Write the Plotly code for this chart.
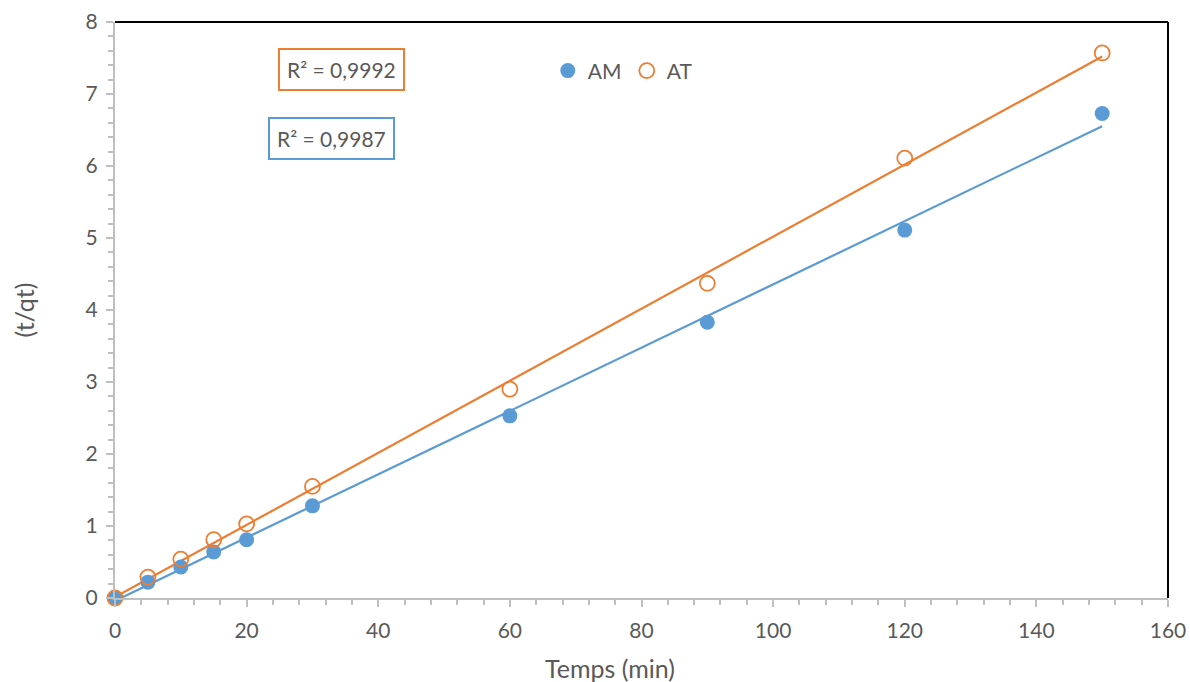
import numpy as np
import plotly.graph_objects as go

# Temps de contact (min)
temps = [0, 5, 10, 15, 20, 30, 60, 90, 120, 150]
# t/qt pour chaque adsorbant
am_values = [0.0, 0.22, 0.43, 0.64, 0.81, 1.28, 2.53, 3.83, 5.11, 6.73]
at_values = [0.0, 0.29, 0.54, 0.81, 1.03, 1.55, 2.90, 4.37, 6.11, 7.57]

r2_am = "R² = 0,9987"
r2_at = "R² = 0,9992"

BLUE = "#5B9BD5"
ORANGE = "#ED7D31"
GREY_TEXT = "#595959"
AXIS_GREY = "#BFBFBF"
FONT = "Lato, 'Open Sans', sans-serif"

fig = go.Figure()

# Linear trendlines (least squares over the measured points)
x_fit = np.array([temps[0], temps[-1]], dtype=float)
for vals, color in [(am_values, BLUE), (at_values, ORANGE)]:
    slope, intercept = np.polyfit(temps, vals, 1)
    fig.add_trace(go.Scatter(
        x=x_fit, y=slope * x_fit + intercept, mode="lines",
        line=dict(color=color, width=2.2), showlegend=False, hoverinfo="skip"))

fig.add_trace(go.Scatter(
    x=temps, y=am_values, mode="markers", name="AM", cliponaxis=False,
    marker=dict(symbol="circle", size=15, color=BLUE, line=dict(width=0))))
fig.add_trace(go.Scatter(
    x=temps, y=at_values, mode="markers", name="AT", cliponaxis=False,
    marker=dict(symbol="circle-open", size=15, color=ORANGE, line=dict(width=1.8, color=ORANGE))))

axis_common = dict(
    showgrid=False, zeroline=False, showline=True, linecolor=AXIS_GREY, linewidth=2,
    ticks="outside", ticklen=7, tickwidth=1.5, tickcolor=AXIS_GREY, automargin=False,
    tickfont=dict(family=FONT, size=21, color=GREY_TEXT),
)

fig.update_xaxes(
    range=[0, 160], dtick=20, tick0=0, ticklabelstandoff=6,
    minor=dict(dtick=4, ticks="outside", ticklen=5, tickcolor=AXIS_GREY, tickwidth=1.5),
    **axis_common)
fig.update_yaxes(
    range=[0, 8], dtick=1, tick0=0, ticklabelstandoff=4,
    minor=dict(dtick=0.2, ticks="outside", ticklen=5, tickcolor=AXIS_GREY, tickwidth=1.5),
    title=dict(text="(t/qt)", font=dict(family=FONT, size=25, color=GREY_TEXT), standoff=44),
    **axis_common)

# X-axis title
fig.add_annotation(
    x=0.47, y=-0.1215, xref="paper", yref="paper", xanchor="center", yanchor="middle",
    text="Temps (min)", showarrow=False, font=dict(family=FONT, size=25, color=GREY_TEXT))

# Plot-area frame on the top and right sides
fig.add_shape(type="line", xref="x domain", yref="y domain", x0=0, x1=1, y0=1, y1=1,
              line=dict(color="black", width=2))
fig.add_shape(type="line", xref="x domain", yref="y domain", x0=1, x1=1, y0=0, y1=1,
              line=dict(color="black", width=2))

# Coefficients of determination
for text, color, xp, yp in [(r2_at, ORANGE, 0.2147, 0.9167), (r2_am, BLUE, 0.2052, 0.7986)]:
    fig.add_annotation(
        x=xp, y=yp, xref="x domain", yref="y domain", xanchor="center", yanchor="middle",
        text=text, showarrow=False,
        font=dict(family=FONT, size=21, color=GREY_TEXT),
        bordercolor=color, borderwidth=2, borderpad=7, bgcolor="white")

fig.update_layout(
    width=1190, height=682,
    margin=dict(l=115, r=22, t=22, b=84),
    paper_bgcolor="white", plot_bgcolor="white",
    legend=dict(orientation="h", x=0.411, y=0.915, xanchor="left", yanchor="middle",
                font=dict(family=FONT, size=21, color=GREY_TEXT),
                itemwidth=30, entrywidth=34, entrywidthmode="pixels",
                bgcolor="rgba(0,0,0,0)", tracegroupgap=0),
)

fig.write_html("out.html")
